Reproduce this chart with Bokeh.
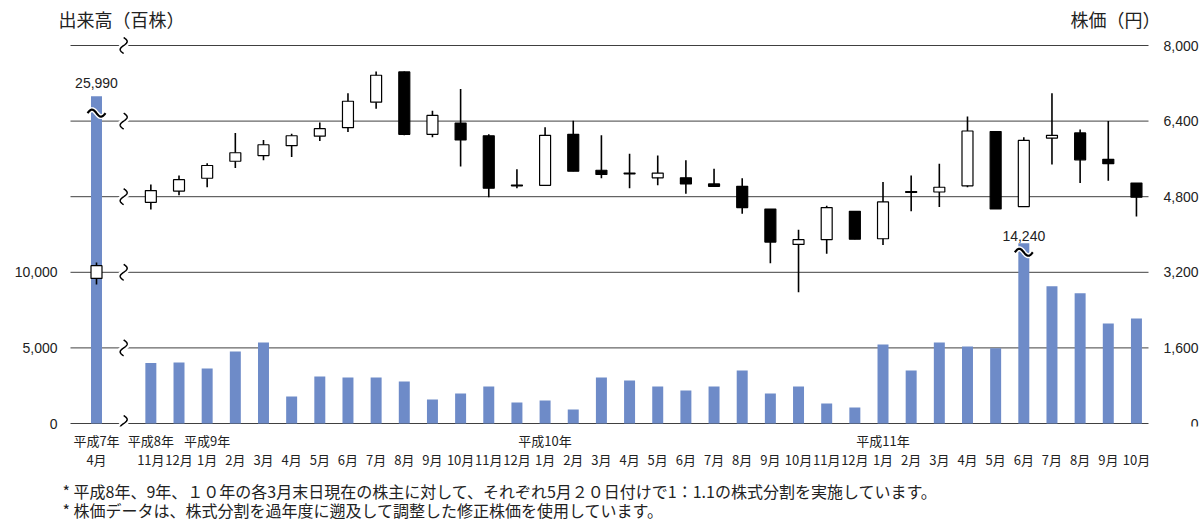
import numpy as np
from bokeh.plotting import figure
from bokeh.layouts import column
from bokeh.models import (Range1d, LinearAxis, FixedTicker, NumeralTickFormatter,
                          Label, ColumnDataSource)
from bokeh.core.properties import value
from bokeh.embed import file_html
from bokeh.resources import INLINE

# ---------------- data ----------------
months = ["4月",
          "11月", "12月",
          "1月", "2月", "3月", "4月", "5月", "6月", "7月", "8月", "9月", "10月", "11月", "12月",
          "1月", "2月", "3月", "4月", "5月", "6月", "7月", "8月", "9月", "10月", "11月", "12月",
          "1月", "2月", "3月", "4月", "5月", "6月", "7月", "8月", "9月", "10月"]
year_labels = {0: "平成7年", 1: "平成8年", 3: "平成9年", 15: "平成10年", 27: "平成11年"}

opens = [3070, 4680, 4920, 5190, 5550, 5670, 5880, 6080, 6260, 6800, 7440, 6120, 6360, 6090,
         5045, 5040, 6120, 5360, 5300, 5200, 5200, 5070, 5020, 4540, 3790, 3890, 4490,
         3910, 4910, 4900, 5030, 6180, 4590, 6040, 6150, 5590, 5090]
highs = [3410, 5060, 5250, 5510, 6150, 6000, 6130, 6370, 6990, 7450, 7450, 6620, 7080, 6120,
         5380, 6270, 6410, 6100, 5710, 5670, 5570, 5390, 5190, 4540, 4100, 4610, 4490,
         5110, 5250, 5500, 6500, 6180, 6060, 6990, 6220, 6400, 5090]
lows = [2940, 4530, 4830, 5000, 5410, 5570, 5640, 5980, 6170, 6660, 6100, 6060, 5440, 4790,
        4980, 5040, 5340, 5190, 4980, 5040, 4860, 5020, 4440, 3390, 2780, 3590, 3900,
        3780, 4490, 4580, 5000, 4540, 4590, 5480, 5090, 5140, 4380]
closes = [3340, 4930, 5160, 5460, 5730, 5900, 6090, 6240, 6820, 7370, 6120, 6520, 6000, 4980,
          5030, 6100, 5340, 5270, 5285, 5300, 5070, 5020, 4570, 3840, 3890, 4570, 3900,
          4690, 4890, 5000, 6190, 4540, 5990, 6100, 5580, 5500, 4790]

volume = [25990, 4000, 4040, 3640, 4770, 5360, 1790, 3110, 3050, 3050, 2780, 1590, 1990, 2450,
          1390, 1520, 930, 3050, 2850, 2450, 2190, 2450, 3510, 1990, 2450, 1320, 1060,
          5230, 3510, 5360, 5100, 4970, 14240, 9070, 8610, 6620, 6950]
# broken (cut) bars: height shown on the axis scale
volume_cut = {0: 21650, 32: 11920}

vol_ticks = [0, 5000, 10000]
price_ticks = [0, 1600, 3200, 4800, 6400, 8000]

notes = ["* 平成8年、9年、１０年の各3月末日現在の株主に対して、それぞれ5月２０日付けで1：1.1の株式分割を実施しています。",
         "* 株価データは、株式分割を過年度に遡及して調整した修正株価を使用しています。"]

# ---------------- layout ----------------
W = 1202
H_MAIN, H_NOTES = 476, 45
FL, FR, FT, FB = 58, 1202, 0, 426        # frame
GL, GR = 70, 1148                        # plotting area (rules)
P0, P8 = 423, 45                         # pixel rows of price 0 and 8000
ppx = 28.16
GAP = 1.93
xs = [0.0] + [GAP + i for i in range(len(months) - 1)]
X_START = -(96 - FL) / ppx
X_END = X_START + (FR - FL) / ppx
ppy = (P0 - P8) / 8000
Y0 = -(FB - P0) / ppy
Y1 = Y0 + (FB - FT) / ppy
V0, V1 = Y0 * 25000 / 8000, Y1 * 25000 / 8000
ppv = ppy * 8000 / 25000


def px_x(px):
    return X_START + (px - FL) / ppx


def px_y(py):
    return (P0 - py) / ppy


p = figure(width=W, height=H_MAIN, output_backend="svg", toolbar_location=None,
           x_range=Range1d(X_START, X_END), y_range=Range1d(Y0, Y1),
           x_axis_location=None, y_axis_location=None,
           min_border_left=FL, min_border_right=W - FR, min_border_top=FT,
           min_border_bottom=H_MAIN - FB)
p.outline_line_color = None
p.xgrid.visible = False
p.ygrid.visible = False
p.extra_y_ranges = {"vol": Range1d(V0, V1)}

# horizontal rules
p.segment(x0=[px_x(GL)] * len(price_ticks), x1=[px_x(GR)] * len(price_ticks),
          y0=price_ticks, y1=price_ticks, line_color="#404040", line_width=1)

# left axis (volume)
lax = LinearAxis(y_range_name="vol", ticker=FixedTicker(ticks=vol_ticks),
                 formatter=NumeralTickFormatter(format="0,0"))
lax.axis_line_color = None
lax.major_tick_line_color = None
lax.minor_tick_line_color = None
lax.major_tick_out = 0
lax.major_tick_in = 0
lax.major_label_standoff = 1
lax.major_label_text_font = "Liberation Sans"
lax.major_label_text_font_size = "14px"
lax.major_label_text_color = "#222222"
p.add_layout(lax, "left")

# bottom axes: year row then month row
yi = sorted(year_labels)
yax = LinearAxis(ticker=FixedTicker(ticks=[xs[i] for i in yi]),
                 major_label_overrides={xs[i]: year_labels[i] for i in yi})
max_ = LinearAxis(ticker=FixedTicker(ticks=xs),
                  major_label_overrides={x: m for x, m in zip(xs, months)})
for ax, so in ((yax, 4), (max_, -3)):
    ax.axis_line_color = None
    ax.major_tick_line_color = None
    ax.minor_tick_line_color = None
    ax.major_tick_out = 0
    ax.major_tick_in = 0
    ax.major_label_standoff = so
    ax.major_label_text_font = "Noto Sans CJK JP"
    ax.major_label_text_font_size = "13px"
    ax.major_label_text_color = "#222222"
    p.add_layout(ax, "below")

# volume bars
disp = [volume_cut.get(i, v) for i, v in enumerate(volume)]
p.vbar(x=xs, top=disp, bottom=0, width=0.39, y_range_name="vol",
       fill_color="#6E8BC8", line_color=None)

# break marks on the rules
xb = (xs[0] + xs[1]) / 2
t = np.linspace(-1, 1, 40)
bx, by = [], []
for pt in price_ticks:
    bx.append(list(xb - 3.5 / ppx * np.sin(np.pi * t)))
    by.append(list(pt - t * 8 / ppy))
p.multi_line(xs=bx, ys=by, line_color="white", line_width=6)
p.multi_line(xs=bx, ys=by, line_color="black", line_width=1.5)

# break marks on cut bars
cut_mark_px = {0: 17, 32: 9}
tx, ty = [], []
for i, top in volume_cut.items():
    yc = top - cut_mark_px[i] / ppv
    tx.append(list(xs[i] + t * 9 / ppx))
    ty.append(list(yc - 3.5 / ppv * np.sin(np.pi * t)))
p.multi_line(xs=tx, ys=ty, line_color="white", line_width=5, y_range_name="vol")
p.multi_line(xs=tx, ys=ty, line_color="black", line_width=2.2, y_range_name="vol")

# value labels on cut bars
label_gap = {0: 8, 32: 2}
for i, top in volume_cut.items():
    p.add_layout(Label(x=xs[i], y=top, y_range_name="vol", y_offset=label_gap[i],
                       text=f"{volume[i]:,}", text_align="center", text_baseline="bottom",
                       text_font="Liberation Sans", text_font_size="14px",
                       text_color="#222222"))

# candlesticks
src = ColumnDataSource(dict(
    x=xs, o=opens, h=highs, l=lows, c=closes,
    top=[max(a, b) for a, b in zip(opens, closes)],
    bot=[min(a, b) for a, b in zip(opens, closes)],
    fill=["white" if c >= o else "black" for o, c in zip(opens, closes)],
))
p.segment(x0="x", y0="l", x1="x", y1="h", source=src, line_color="black", line_width=1.6)
p.vbar(x="x", top="top", bottom="bot", width=0.39, source=src,
       fill_color="fill", line_color="black", line_width=1.2)

# right price labels
for pt in price_ticks:
    p.add_layout(Label(x=px_x(1198), y=pt, text=f"{pt:,}", text_align="right",
                       text_baseline="middle", text_font="Liberation Sans",
                       text_font_size="14px", text_color="#222222"))

# titles
p.add_layout(Label(x=px_x(58), y=px_y(18), text="出来高（百株）", text_align="left",
                   text_baseline="middle", text_font="Noto Sans CJK JP",
                   text_font_size="18px", text_color="#222222"))
p.add_layout(Label(x=px_x(1160), y=px_y(18), text="株価（円）", text_align="right",
                   text_baseline="middle", text_font="Noto Sans CJK JP",
                   text_font_size="18px", text_color="#222222"))

# footnotes (separate strip below the chart; its frame lines up with the chart frame)
nf = figure(width=W, height=H_NOTES, output_backend="svg", toolbar_location=None,
            x_range=Range1d(FL, FR), y_range=Range1d(H_NOTES, 0),
            x_axis_location=None, y_axis_location=None,
            min_border_left=FL, min_border_right=W - FR, min_border_top=0,
            min_border_bottom=0)
nf.outline_line_color = None
nf.xgrid.visible = False
nf.ygrid.visible = False
nf.text(x=[62, 62], y=[490 - H_MAIN, 509 - H_MAIN], text=notes,
        text_font=value("Noto Sans CJK JP"), text_font_size="16px",
        text_align="left", text_baseline="middle", text_color="#222222")

open("out.html", "w").write(file_html(column(p, nf), INLINE))
